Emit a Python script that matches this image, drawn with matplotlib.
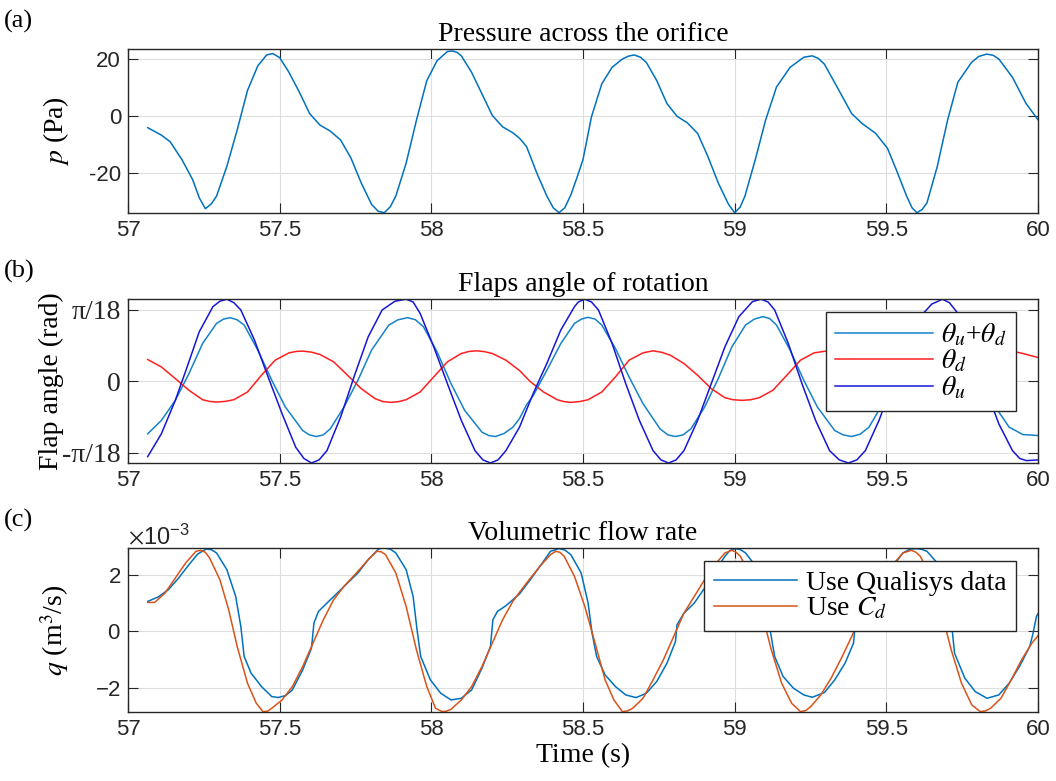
import numpy as np
import matplotlib

matplotlib.use("Agg")
import matplotlib.pyplot as plt  # noqa: E402
from matplotlib.ticker import ScalarFormatter  # noqa: E402

plt.rcParams.update({
    "font.family": ["Liberation Sans", "DejaVu Sans"],
    "mathtext.fontset": "stix",
    "axes.unicode_minus": False,
})
SERIF = ["Liberation Serif", "DejaVu Serif"]

# (a) pressure across the orifice: (time s, p Pa)
pressure = [
    (57.065, -4.0), (57.110, -6.6), (57.139, -8.9), (57.178, -15.2), (57.213, -22.1),
    (57.235, -28.5), (57.255, -32.3), (57.275, -30.6), (57.292, -27.9), (57.326, -17.5),
    (57.360, -4.8), (57.394, 9.0), (57.428, 17.6), (57.457, 21.4), (57.477, 21.9),
    (57.500, 20.5), (57.531, 15.3), (57.565, 8.4), (57.599, 0.9), (57.633, -3.1),
    (57.667, -5.2), (57.701, -8.3), (57.735, -14.6), (57.769, -23.3), (57.803, -30.8),
    (57.825, -33.2), (57.845, -33.7), (57.865, -31.6), (57.883, -27.9), (57.917, -16.4),
    (57.951, -1.4), (57.985, 12.4), (58.019, 19.4), (58.053, 22.6), (58.070, 22.8),
    (58.085, 22.3), (58.099, 21.1), (58.133, 15.3), (58.167, 7.8), (58.201, 0.3),
    (58.235, -3.7), (58.269, -5.8), (58.291, -7.7), (58.314, -10.6), (58.348, -19.9),
    (58.381, -27.9), (58.402, -32.0), (58.421, -33.7), (58.440, -32.0), (58.460, -27.5),
    (58.480, -21.5), (58.500, -15.2), (58.528, -0.2), (58.562, 11.3), (58.596, 17.1),
    (58.630, 20.0), (58.650, 21.0), (58.669, 21.4), (58.690, 20.6), (58.709, 18.8),
    (58.743, 12.5), (58.777, 4.4), (58.810, 0.0), (58.844, -2.3), (58.878, -6.0),
    (58.912, -14.1), (58.946, -23.3), (58.980, -30.8), (59.000, -33.7), (59.018, -31.8),
    (59.034, -27.9), (59.068, -15.2), (59.102, -1.4), (59.138, 10.2), (59.183, 17.1),
    (59.228, 20.6), (59.256, 21.1), (59.276, 20.2), (59.296, 18.2), (59.341, 9.6),
    (59.386, 0.9), (59.420, -2.5), (59.465, -6.0), (59.504, -11.2), (59.533, -18.7),
    (59.567, -27.9), (59.585, -32.0), (59.601, -33.7), (59.618, -32.6), (59.634, -30.3),
    (59.668, -17.6), (59.702, -1.4), (59.736, 11.9), (59.781, 18.8), (59.805, 20.9),
    (59.831, 21.7), (59.852, 21.3), (59.871, 20.0), (59.916, 13.6), (59.961, 4.4),
    (60.000, -1.2),
]

# (b) flap angles, values in units of pi/18 rad: (time s, angle)
theta_u = [
    (57.065, -1.054), (57.110, -0.735), (57.156, -0.267), (57.195, 0.201), (57.235, 0.693),
    (57.280, 1.044), (57.303, 1.120), (57.326, 1.148), (57.349, 1.100), (57.372, 0.998),
    (57.417, 0.576), (57.462, 0.061), (57.508, -0.454), (57.553, -0.923), (57.580, -1.080),
    (57.605, -1.143), (57.630, -1.100), (57.656, -0.970), (57.701, -0.501), (57.747, 0.084),
    (57.792, 0.623), (57.838, 0.998), (57.880, 1.120), (57.917, 1.148), (57.940, 1.110),
    (57.963, 0.951), (58.008, 0.482), (58.053, -0.033), (58.099, -0.548), (58.144, -0.970),
    (58.170, -1.100), (58.195, -1.143), (58.220, -1.100), (58.246, -0.970), (58.291, -0.640),
    (58.336, -0.170), (58.381, 0.250), (58.427, 0.717), (58.472, 1.044), (58.485, 1.110),
    (58.506, 1.148), (58.528, 1.110), (58.551, 0.998), (58.596, 0.529), (58.641, -0.033),
    (58.686, -0.548), (58.731, -0.970), (58.757, -1.100), (58.782, -1.143), (58.807, -1.100),
    (58.833, -0.970), (58.878, -0.548), (58.923, -0.033), (58.968, 0.482), (59.014, 0.904),
    (59.059, 1.115), (59.087, 1.148), (59.110, 1.110), (59.132, 0.998), (59.177, 0.529),
    (59.222, -0.033), (59.267, -0.548), (59.313, -0.970), (59.345, -1.100), (59.375, -1.143),
    (59.403, -1.100), (59.431, -0.970), (59.476, -0.548), (59.521, -0.033), (59.567, 0.482),
    (59.612, 0.904), (59.650, 1.080), (59.685, 1.148), (59.708, 1.100), (59.736, 0.951),
    (59.781, 0.482), (59.826, -0.080), (59.871, -0.595), (59.916, -0.970), (59.940, -1.080),
    (59.962, -1.110), (60.000, -1.100),
]
theta_d = [
    (57.065, 0.304), (57.110, 0.201), (57.156, 0.037), (57.201, -0.126), (57.246, -0.258),
    (57.270, -0.283), (57.292, -0.290), (57.320, -0.282), (57.349, -0.258), (57.394, -0.150),
    (57.440, 0.084), (57.485, 0.295), (57.531, 0.398), (57.555, 0.418), (57.576, 0.422),
    (57.605, 0.408), (57.633, 0.375), (57.678, 0.272), (57.724, 0.084), (57.769, -0.103),
    (57.815, -0.244), (57.840, -0.283), (57.866, -0.295), (57.892, -0.285), (57.917, -0.258),
    (57.963, -0.150), (58.008, 0.061), (58.053, 0.272), (58.099, 0.389), (58.125, 0.418),
    (58.150, 0.426), (58.175, 0.415), (58.201, 0.389), (58.246, 0.295), (58.291, 0.150),
    (58.325, 0.000), (58.370, -0.150), (58.415, -0.258), (58.438, -0.285), (58.460, -0.295),
    (58.490, -0.283), (58.517, -0.258), (58.562, -0.150), (58.607, 0.061), (58.652, 0.295),
    (58.698, 0.398), (58.731, 0.426), (58.760, 0.405), (58.788, 0.365), (58.833, 0.248),
    (58.878, 0.084), (58.923, -0.103), (58.968, -0.230), (58.995, -0.258), (59.025, -0.267),
    (59.053, -0.258), (59.081, -0.230), (59.126, -0.126), (59.172, 0.084), (59.217, 0.295),
    (59.262, 0.398), (59.307, 0.426), (59.335, 0.405), (59.363, 0.365), (59.409, 0.248),
    (59.454, 0.084), (59.499, -0.103), (59.544, -0.230), (59.572, -0.258), (59.601, -0.267),
    (59.629, -0.258), (59.657, -0.230), (59.702, -0.126), (59.747, 0.084), (59.792, 0.295),
    (59.838, 0.398), (59.866, 0.420), (59.894, 0.426), (59.922, 0.415), (59.950, 0.389),
    (60.000, 0.333),
]
theta_sum = [
    (57.065, -0.735), (57.110, -0.548), (57.156, -0.267), (57.201, 0.108), (57.246, 0.529),
    (57.292, 0.810), (57.315, 0.870), (57.337, 0.890), (57.360, 0.860), (57.383, 0.787),
    (57.428, 0.436), (57.474, 0.014), (57.519, -0.361), (57.576, -0.689), (57.598, -0.750),
    (57.621, -0.773), (57.644, -0.750), (57.667, -0.665), (57.712, -0.361), (57.758, 0.014),
    (57.803, 0.436), (57.860, 0.787), (57.890, 0.860), (57.922, 0.890), (57.948, 0.860),
    (57.974, 0.763), (58.019, 0.412), (58.065, -0.033), (58.110, -0.407), (58.167, -0.712),
    (58.190, -0.760), (58.212, -0.773), (58.240, -0.730), (58.269, -0.642), (58.291, -0.520),
    (58.314, -0.330), (58.336, -0.200), (58.381, 0.155), (58.427, 0.529), (58.472, 0.810),
    (58.495, 0.870), (58.517, 0.895), (58.540, 0.870), (58.562, 0.787), (58.607, 0.459),
    (58.652, 0.061), (58.698, -0.314), (58.754, -0.665), (58.780, -0.750), (58.805, -0.773),
    (58.830, -0.750), (58.856, -0.665), (58.901, -0.361), (58.946, 0.037), (58.991, 0.482),
    (59.036, 0.787), (59.065, 0.870), (59.093, 0.904), (59.115, 0.880), (59.138, 0.787),
    (59.183, 0.436), (59.228, 0.014), (59.273, -0.361), (59.330, -0.689), (59.358, -0.750),
    (59.386, -0.773), (59.414, -0.740), (59.443, -0.642), (59.488, -0.314), (59.533, 0.108),
    (59.578, 0.529), (59.623, 0.787), (59.648, 0.870), (59.674, 0.895), (59.700, 0.860),
    (59.725, 0.763), (59.770, 0.436), (59.815, 0.014), (59.860, -0.361), (59.905, -0.642),
    (59.950, -0.745), (60.000, -0.759),
]

# (c) volumetric flow rate, values in 1e-3 m^3/s: (time s, q)
q_qualisys = [
    (57.065, 1.056), (57.099, 1.208), (57.133, 1.466), (57.167, 1.877), (57.201, 2.346),
    (57.230, 2.721), (57.258, 2.897), (57.275, 2.870), (57.292, 2.757), (57.326, 2.170),
    (57.355, 1.232), (57.372, 0.176), (57.383, -0.880), (57.406, -1.466), (57.440, -1.935),
    (57.474, -2.287), (57.495, -2.320), (57.520, -2.250), (57.542, -2.053), (57.576, -1.349),
    (57.605, -0.587), (57.613, 0.293), (57.628, 0.704), (57.656, 0.997), (57.690, 1.349),
    (57.724, 1.701), (57.758, 2.053), (57.792, 2.522), (57.826, 2.897), (57.843, 2.933),
    (57.865, 2.890), (57.883, 2.757), (57.917, 2.170), (57.940, 1.232), (57.953, 0.059),
    (57.965, -0.880), (57.997, -1.701), (58.031, -2.170), (58.065, -2.405), (58.099, -2.346),
    (58.133, -2.053), (58.167, -1.290), (58.195, -0.528), (58.203, 0.411), (58.218, 0.704),
    (58.246, 0.903), (58.291, 1.320), (58.325, 1.800), (58.359, 2.300), (58.393, 2.815),
    (58.421, 2.909), (58.440, 2.860), (58.460, 2.698), (58.494, 2.053), (58.517, 0.997),
    (58.530, -0.059), (58.545, -0.880), (58.573, -1.525), (58.607, -1.935), (58.641, -2.229),
    (58.675, -2.323), (58.709, -2.170), (58.743, -1.760), (58.777, -1.114), (58.805, -0.352),
    (58.810, 0.235), (58.833, 0.645), (58.867, 0.997), (58.901, 1.525), (58.935, 2.111),
    (58.968, 2.639), (58.985, 2.850), (59.002, 2.909), (59.020, 2.870), (59.036, 2.757),
    (59.070, 2.287), (59.098, 1.232), (59.115, 0.176), (59.132, -0.880), (59.160, -1.584),
    (59.194, -1.994), (59.228, -2.229), (59.256, -2.311), (59.296, -2.147), (59.330, -1.701),
    (59.364, -1.114), (59.392, -0.411), (59.397, 0.176), (59.420, 0.762), (59.454, 1.232),
    (59.488, 1.701), (59.521, 2.287), (59.555, 2.757), (59.578, 2.890), (59.600, 2.909),
    (59.618, 2.880), (59.634, 2.815), (59.668, 2.405), (59.702, 1.349), (59.714, 0.411),
    (59.725, -0.762), (59.759, -1.642), (59.793, -2.111), (59.832, -2.346), (59.871, -2.229),
    (59.905, -1.818), (59.939, -1.232), (59.973, -0.528), (59.984, -0.059), (59.995, 0.528),
    (60.000, 0.622),
]
q_cd = [
    (57.065, 1.021), (57.088, 1.021), (57.122, 1.349), (57.156, 1.877), (57.190, 2.405),
    (57.224, 2.815), (57.241, 2.850), (57.255, 2.780), (57.269, 2.581), (57.303, 1.818),
    (57.332, 0.762), (57.360, -0.528), (57.394, -1.818), (57.423, -2.522), (57.445, -2.815),
    (57.460, -2.800), (57.474, -2.698), (57.508, -2.405), (57.542, -1.935), (57.576, -1.232),
    (57.610, -0.411), (57.644, 0.411), (57.678, 1.114), (57.712, 1.584), (57.758, 2.111),
    (57.792, 2.522), (57.820, 2.815), (57.835, 2.800), (57.849, 2.698), (57.883, 2.053),
    (57.917, 0.880), (57.951, -0.645), (57.985, -1.935), (58.014, -2.698), (58.036, -2.815),
    (58.050, -2.800), (58.065, -2.733), (58.099, -2.405), (58.133, -1.935), (58.167, -1.232),
    (58.201, -0.411), (58.235, 0.411), (58.269, 1.060), (58.291, 1.380), (58.325, 1.850),
    (58.359, 2.300), (58.393, 2.698), (58.410, 2.815), (58.424, 2.780), (58.438, 2.639),
    (58.472, 1.935), (58.506, 0.880), (58.540, -0.411), (58.573, -1.701), (58.602, -2.405),
    (58.630, -2.815), (58.647, -2.790), (58.664, -2.698), (58.698, -2.346), (58.731, -1.701),
    (58.765, -0.997), (58.799, -0.176), (58.833, 0.645), (58.867, 1.232), (58.901, 1.818),
    (58.935, 2.346), (58.968, 2.757), (58.991, 2.850), (59.005, 2.780), (59.019, 2.639),
    (59.053, 1.935), (59.087, 0.762), (59.121, -0.645), (59.155, -1.818), (59.188, -2.522),
    (59.217, -2.815), (59.234, -2.780), (59.251, -2.639), (59.284, -2.229), (59.318, -1.642),
    (59.352, -0.938), (59.386, -0.176), (59.420, 0.645), (59.454, 1.290), (59.488, 1.818),
    (59.521, 2.346), (59.555, 2.757), (59.583, 2.850), (59.598, 2.780), (59.612, 2.639),
    (59.646, 1.935), (59.680, 0.762), (59.714, -0.645), (59.748, -1.818), (59.782, -2.581),
    (59.810, -2.815), (59.827, -2.790), (59.844, -2.698), (59.878, -2.346), (59.912, -1.701),
    (59.946, -0.997), (59.980, -0.411), (60.000, -0.153),
]

x_ticks = [57, 57.5, 58, 58.5, 59, 59.5, 60]
x_ticklabels = ["57", "57.5", "58", "58.5", "59", "59.5", "60"]
titles = ["Pressure across the orifice", "Flaps angle of rotation", "Volumetric flow rate"]
panel_tags = ["(a)", "(b)", "(c)"]

C_BLUE = "#0072BD"
C_SUM = "#1682c8"
C_RED = "#ff1f1f"
C_DBLUE = "#1616d6"
C_ORANGE = "#D95319"
C_AX = "#262626"


def xy(pairs, scale=1.0):
    a = np.array(pairs, dtype=float)
    return a[:, 0], a[:, 1] * scale


def style(ax, title):
    ax.set_xlim(57, 60)
    ax.set_xticks(x_ticks)
    ax.set_xticklabels(x_ticklabels)
    ax.tick_params(direction="in", length=7, width=0.8, top=True, right=True,
                   labelsize=16, colors=C_AX, pad=5)
    ax.grid(True, color="#dedede", lw=0.8)
    ax.set_axisbelow(True)
    for s in ax.spines.values():
        s.set_color(C_AX)
        s.set_linewidth(1.0)
    ax.set_title(title, fontsize=20, family=SERIF, pad=6)


def legend(ax, hlen):
    leg = ax.legend(loc="upper right", bbox_to_anchor=(0.976, 0.921), borderaxespad=0,
                    prop={"family": SERIF, "size": 20}, fancybox=False, framealpha=1,
                    edgecolor=C_AX, handlelength=hlen, labelspacing=0.0,
                    borderpad=0.35, handletextpad=0.3)
    leg.get_frame().set_linewidth(1.0)
    return leg


fig = plt.figure(figsize=(10.56, 7.81), dpi=100)
rects = [[0.1212, 0.7273, 0.8617, 0.2100],
         [0.1212, 0.4072, 0.8617, 0.2100],
         [0.1212, 0.0883, 0.8617, 0.2100]]
axa, axb, axc = [fig.add_axes(r) for r in rects]

# (a)
t, p = xy(pressure)
axa.plot(t, p, color=C_BLUE, lw=1.1)
style(axa, titles[0])
axa.set_ylim(-33.8, 23.5)
axa.set_yticks([-20, 0, 20])
axa.set_ylabel(r"$p$ (Pa)", fontsize=20, family=SERIF)
axa.yaxis.set_label_coords(-0.063, 0.5)

# (b)
unit = np.pi / 18
for data, col, lab in [(theta_sum, C_SUM, r"$\theta_u$+$\theta_d$"),
                       (theta_d, C_RED, r"$\theta_d$"),
                       (theta_u, C_DBLUE, r"$\theta_u$")]:
    t, v = xy(data, unit)
    axb.plot(t, v, color=col, lw=1.1, label=lab)
style(axb, titles[1])
axb.set_ylim(-0.1995, 0.201)
axb.set_yticks([-unit, 0, unit])
axb.set_yticklabels(["-π/18", "0", "π/18"])
for lb in axb.get_yticklabels():
    lb.set_family(SERIF)
    lb.set_fontsize(20)
axb.set_ylabel("Flap angle (rad)", fontsize=20, family=SERIF)
axb.yaxis.set_label_coords(-0.070, 0.5)
legend(axb, 3.5)

# (c)
t, q = xy(q_qualisys, 1e-3)
axc.plot(t, q, color=C_BLUE, lw=1.1, label="Use Qualisys data")
t, q = xy(q_cd, 1e-3)
axc.plot(t, q, color=C_ORANGE, lw=1.1, label=r"Use $C_d$")
style(axc, titles[2])
axc.set_ylim(-2.83e-3, 2.93e-3)
axc.set_yticks([-2e-3, 0, 2e-3])
fmt = ScalarFormatter(useMathText=True)
fmt.set_powerlimits((-2, 2))
axc.yaxis.set_major_formatter(fmt)
axc.yaxis.get_offset_text().set_fontsize(17)
axc.yaxis.get_offset_text().set_color(C_AX)
axc.set_ylabel(r"$q$ (m$^3$/s)", fontsize=20, family=SERIF)
axc.yaxis.set_label_coords(-0.063, 0.5)
axc.set_xlabel("Time (s)", fontsize=20, family=SERIF, labelpad=2)
legend(axc, 3.0)

# panel tags
for tag, y in zip(panel_tags, [0.972, 0.652, 0.333]):
    fig.text(0.004, y, tag, fontsize=19, family=SERIF, va="center", ha="left")

fig.savefig("out.png", dpi=100)
